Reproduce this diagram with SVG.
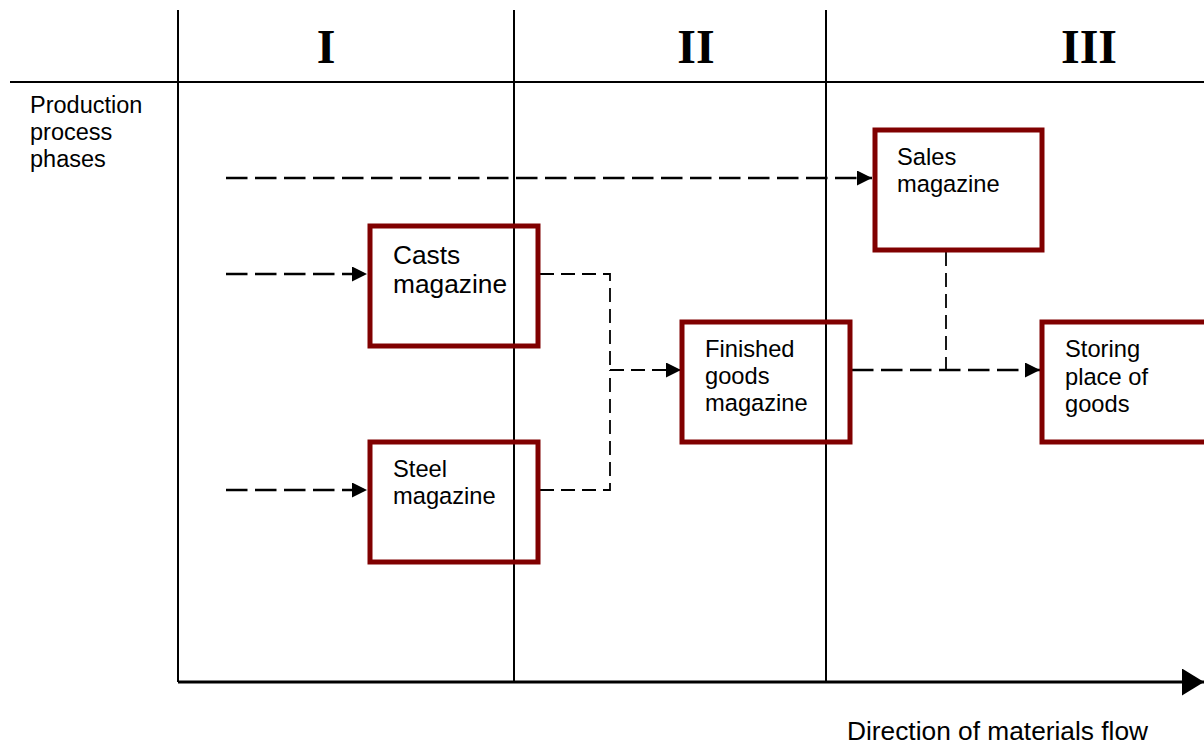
<svg xmlns="http://www.w3.org/2000/svg" width="1204" height="744" viewBox="0 0 1204 744">
<style>
.grid{stroke:#000;stroke-width:2;fill:none}
.box{fill:none;stroke:#800000;stroke-width:5}
.t{font-family:"Liberation Sans",Arial,sans-serif;fill:#000}
.rn{font-family:"Liberation Serif","Times New Roman",serif;font-weight:bold;font-size:48px;fill:#000;text-anchor:middle}
.dl{stroke:#000;stroke-width:2.5;fill:none;stroke-dasharray:21.5 7.5}
.ds{stroke:#000;stroke-width:1.8;fill:none;stroke-dasharray:14 7}
</style>
<defs>
<marker id="ah" markerUnits="userSpaceOnUse" markerWidth="16" markerHeight="16" refX="15" refY="7.5" orient="auto">
<path d="M0,0 L15,7.5 L0,15 Z" fill="#000"/>
</marker>
<marker id="big" markerUnits="userSpaceOnUse" markerWidth="24" markerHeight="28" refX="22" refY="13.5" orient="auto">
<path d="M0,0 L22,13.5 L0,27 Z" fill="#000"/>
</marker>
</defs>
<g id="grid">
<line class="grid" x1="10" y1="82" x2="1204" y2="82"/>
<line class="grid" x1="178" y1="10" x2="178" y2="682"/>
<line class="grid" x1="514" y1="10" x2="514" y2="682"/>
<line class="grid" x1="826" y1="10" x2="826" y2="682"/>
<line x1="178" y1="682" x2="1204" y2="682" stroke="#000" stroke-width="3" marker-end="url(#big)"/>
<text class="rn" x="326" y="63">I</text>
<text class="rn" x="696" y="63">II</text>
<text class="rn" x="1089" y="63">III</text>
<text class="t" font-size="23.5"><tspan x="30" y="113">Production</tspan><tspan x="30" y="140">process</tspan><tspan x="30" y="167">phases</tspan></text>
<text class="t" font-size="26.3" x="847" y="740">Direction of materials flow</text>
</g>
<g id="connectors">
<line class="dl" x1="226" y1="178" x2="872" y2="178" marker-end="url(#ah)"/>
<line class="dl" x1="226" y1="274" x2="367" y2="274" marker-end="url(#ah)"/>
<line class="dl" x1="226" y1="490" x2="367" y2="490" marker-end="url(#ah)"/>
<path class="ds" d="M540,274 H610 V370"/>
<path class="ds" d="M540,490 H610 V370"/>
<line class="ds" x1="610" y1="370" x2="681" y2="370" marker-end="url(#ah)"/>
<line class="dl" x1="852" y1="370" x2="1040" y2="370" marker-end="url(#ah)"/>
<line class="ds" x1="946" y1="252" x2="946" y2="370"/>
</g>
<g id="casts">
<rect class="box" x="370" y="226" width="168" height="120"/>
<text class="t" font-size="26.3"><tspan x="393" y="264">Casts</tspan><tspan x="393" y="293">magazine</tspan></text>
</g>
<g id="steel">
<rect class="box" x="370" y="442" width="168" height="120"/>
<text class="t" font-size="23.7"><tspan x="393" y="477">Steel</tspan><tspan x="393" y="504">magazine</tspan></text>
</g>
<g id="finished">
<rect class="box" x="682" y="322" width="168" height="120"/>
<text class="t" font-size="23.7"><tspan x="705" y="357">Finished</tspan><tspan x="705" y="384">goods</tspan><tspan x="705" y="411">magazine</tspan></text>
</g>
<g id="sales">
<rect class="box" x="875" y="130" width="167" height="120"/>
<text class="t" font-size="23.7"><tspan x="897" y="165">Sales</tspan><tspan x="897" y="192">magazine</tspan></text>
</g>
<g id="storing">
<rect class="box" x="1042" y="322" width="168" height="120"/>
<text class="t" font-size="23.7"><tspan x="1065" y="357">Storing</tspan><tspan x="1065" y="385">place of</tspan><tspan x="1065" y="412">goods</tspan></text>
</g>
</svg>
